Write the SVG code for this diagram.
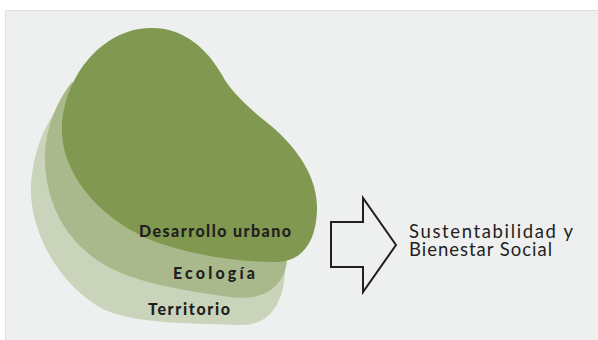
<svg xmlns="http://www.w3.org/2000/svg" width="598" height="340" viewBox="0 0 598 340">
<style>
.lbl{font-family:"Lato","Liberation Sans",sans-serif;font-weight:900;font-size:16px;fill:#231f20}
.out{font-family:"Lato","Open Sans","Liberation Sans",sans-serif;font-weight:400;font-size:18.5px;fill:#231f20}
</style>
<rect x="0" y="0" width="598" height="340" fill="#ffffff"/>
<rect x="5.5" y="10.5" width="600" height="340" fill="#eef0ef" stroke="#dfe1e0" stroke-width="1"/>
<g id="territorio">
<path d="M58,108 C42,128 31,160 31,192 C32,240 65,290 105,310 C140,325 200,323 240,325 C268,326 284,305 285,270 L285,255 L200,150 Z" fill="#c9d4ba"/>
<text class="lbl" x="148" y="315" textLength="82" lengthAdjust="spacing">Territorio</text>
</g>
<g id="ecologia">
<path d="M72,82 C58,100 46,125 45,155 C44,200 65,240 100,262 C130,282 180,290 230,297 C265,302 285,285 287,260 L287,240 L200,150 Z" fill="#a9b98b"/>
<text class="lbl" x="173" y="279" textLength="82" lengthAdjust="spacing">Ecología</text>
</g>
<g id="desarrollo">
<path d="M150,28 C180,27 205,45 222,75 C230,90 245,105 270,125 C300,150 318,180 317,210 C316,245 300,262 275,262 C240,262 200,256 165,245 C110,228 62,180 62,130 C62,80 100,29 150,28 Z" fill="#80984f"/>
<text class="lbl" x="139" y="237" textLength="152" lengthAdjust="spacing">Desarrollo urbano</text>
</g>
<g id="connectors">
<polygon points="331,222 363,222 363,198 396,245 363,292 363,267 331,267" fill="none" stroke="#231f20" stroke-width="2"/>
</g>
<g id="resultado">
<text class="out" x="409" y="238" textLength="164" lengthAdjust="spacing">Sustentabilidad y</text>
<text class="out" x="409" y="256" textLength="143" lengthAdjust="spacing">Bienestar Social</text>
</g>
</svg>
